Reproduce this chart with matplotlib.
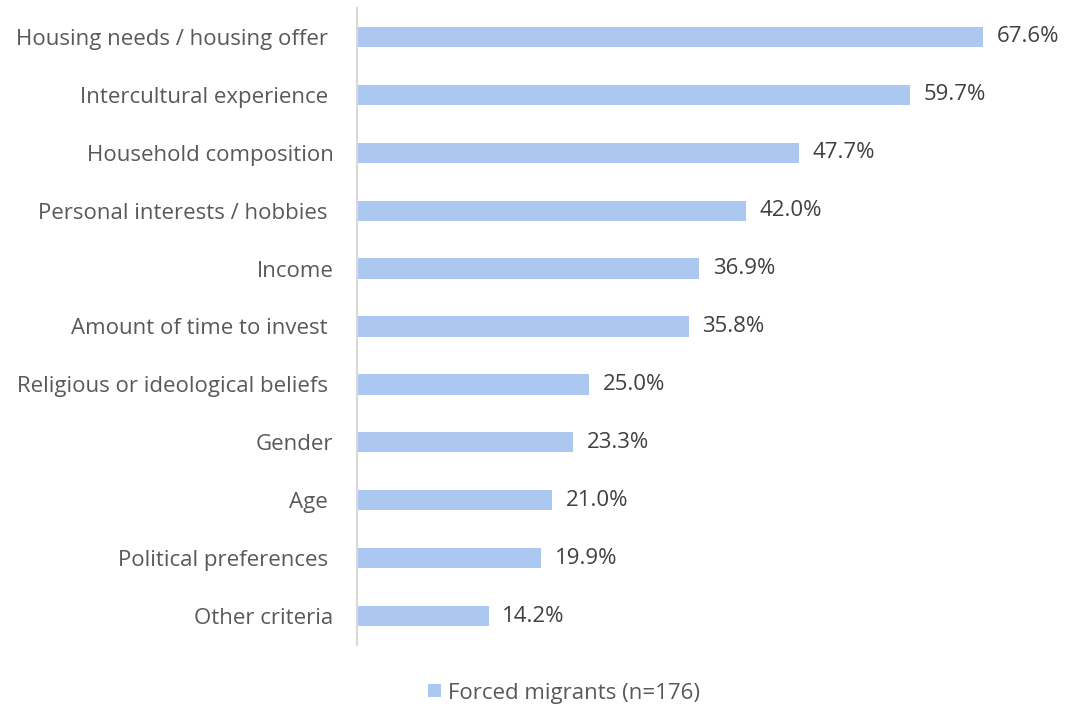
import matplotlib.pyplot as plt
from matplotlib.patches import Patch

# data (top to bottom)
labels = ["Housing needs / housing offer ", "Intercultural experience ", "Household composition",
          "Personal interests / hobbies ", "Income", "Amount of time to invest ",
          "Religious or ideological beliefs ", "Gender", "Age ", "Political preferences ",
          "Other criteria"]
values = [67.6, 59.7, 47.7, 42.0, 36.9, 35.8, 25.0, 23.3, 21.0, 19.9, 14.2]
series_name = "Forced migrants (n=176)"

bar_col = "#adc8f0"
txt_col = "#595959"
val_col = "#404040"
fs = 16

plt.rcParams['font.family'] = ['Open Sans', 'DejaVu Sans']

fig = plt.figure(figsize=(10.68, 7.08), dpi=100)
W, H = 1068, 708
ax = fig.add_axes([357 / W, 1 - 645 / H, (1061 - 357) / W, (645 - 8) / H])

pos = list(range(len(labels)))[::-1]
ax.barh(pos, values, height=0.35, color=bar_col)
for p, v in zip(pos, values):
    ax.text(v + 1.5, p, f"{v:.1f}%", va='center', ha='left', fontsize=fs, color=val_col)

ax.set_xlim(0, 76)
ax.set_ylim(-0.5, len(labels) - 0.5)
ax.set_yticks(pos)
ax.set_yticklabels(labels, fontsize=fs, color=txt_col)
ax.tick_params(axis='y', length=0, pad=17)
ax.set_xticks([])
for s in ['top', 'right', 'bottom']:
    ax.spines[s].set_visible(False)
ax.spines['left'].set_color('#d9d9d9')
ax.spines['left'].set_linewidth(1.5)

handle = Patch(facecolor=bar_col, edgecolor='none')
fig.legend([handle], [series_name], loc='center', bbox_to_anchor=(564 / W, 1 - 693 / H),
           frameon=False, fontsize=fs, labelcolor=txt_col,
           handlelength=0.55, handleheight=0.55, handletextpad=0.32)

fig.savefig("out.png", dpi=100)
